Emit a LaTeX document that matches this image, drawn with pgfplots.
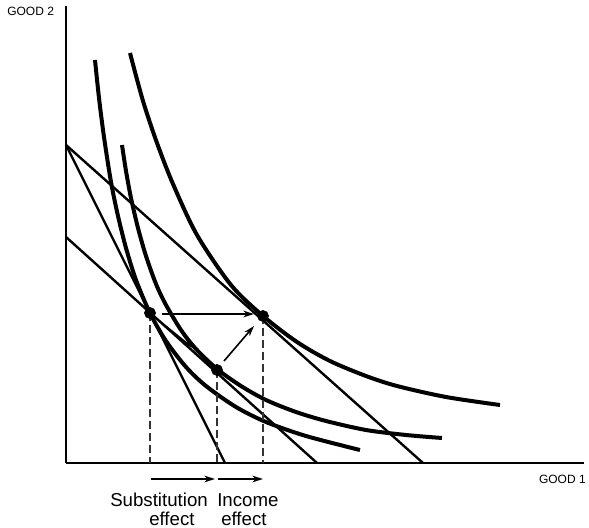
\documentclass[border=0pt]{standalone}
\usepackage{pgfplots}
\pgfplotsset{compat=1.18}
\usepackage{fontspec}
\setmainfont{Liberation Sans}
\usetikzlibrary{arrows.meta}
\begin{document}
\begin{tikzpicture}
\begin{axis}[
  x=0.75pt, y=0.75pt,
  xmin=0, xmax=518, ymin=0, ymax=457,
  axis lines=left,
  axis line style={-, line width=1pt},
  xtick=\empty, ytick=\empty,
  clip=false,
  budget/.style={black, line width=1.8pt, no marks},
  ic/.style={black, line width=3pt, no marks, smooth},
  drop/.style={black!80, line width=0.9pt, dash pattern=on 6pt off 3pt, no marks},
  arr/.style={black, line width=1.2pt, no marks, -{Stealth[length=8pt,width=5pt]}},
]
% invisible frame for the page size
\path (axis cs:-66,-65) rectangle (axis cs:523,463);

% budget lines
\addplot[budget] coordinates {(0,318) (159,0)};
\addplot[budget] coordinates {(0,318) (357,0)};
\addplot[budget] coordinates {(0,226) (251,0)};

% indifference curves
\addplot[ic] coordinates {(29,403) (33,365) (38,326) (45,281) (52,247) (60,215) (70,183) (84,150) (100,122) (120,96) (140,77) (170,56) (200,41) (240,27) (294,13)};
\addplot[ic] coordinates {(56,318) (60,292) (65,265) (72,235) (80,207) (90,179) (100,158) (115,133) (130,114) (151,94) (175,77) (200,63) (230,51) (260,42) (300,33) (340,28) (376,25)};
\addplot[ic] coordinates {(64,410) (77,362) (91,320) (107,279) (131,228) (165,178) (197,147) (231,121) (264,102) (300,87) (331,77) (380,66) (434,58)};

% dashed drops
\addplot[drop] coordinates {(84,150) (84,0)};
\addplot[drop] coordinates {(151,93) (151,0)};
\addplot[drop] coordinates {(197,147) (197,0)};

% arrows in the plot
\addplot[arr] coordinates {(96,149) (188,149)};
\addplot[arr] coordinates {(158,102) (188,137)};
\addplot[arr] coordinates {(86,148) (127,115)};

% arrows below the axis
\addplot[arr] coordinates {(85,-16) (149,-16)};
\addplot[arr] coordinates {(152,-16) (197,-16)};

% optimum points
\addplot[only marks, mark=*, mark size=4.2pt, black] coordinates {(84,150) (151,93) (197,147)};

% labels
\node[anchor=base west, font=\fontsize{9}{11}\selectfont, inner sep=0pt] at (axis cs:-59,447) {GOOD 2};
\node[anchor=base east, font=\fontsize{9}{11}\selectfont, inner sep=0pt] at (axis cs:520,-20) {GOOD 1};
\node[anchor=base west, font=\fontsize{14}{16}\selectfont, inner sep=0pt] at (axis cs:44,-43) {Substitution};
\node[anchor=base west, font=\fontsize{14}{16}\selectfont, inner sep=0pt] at (axis cs:83,-62) {effect};
\node[anchor=base west, font=\fontsize{14}{16}\selectfont, inner sep=0pt] at (axis cs:151,-43) {Income};
\node[anchor=base west, font=\fontsize{14}{16}\selectfont, inner sep=0pt] at (axis cs:155,-62) {effect};
\end{axis}
\end{tikzpicture}
\end{document}
